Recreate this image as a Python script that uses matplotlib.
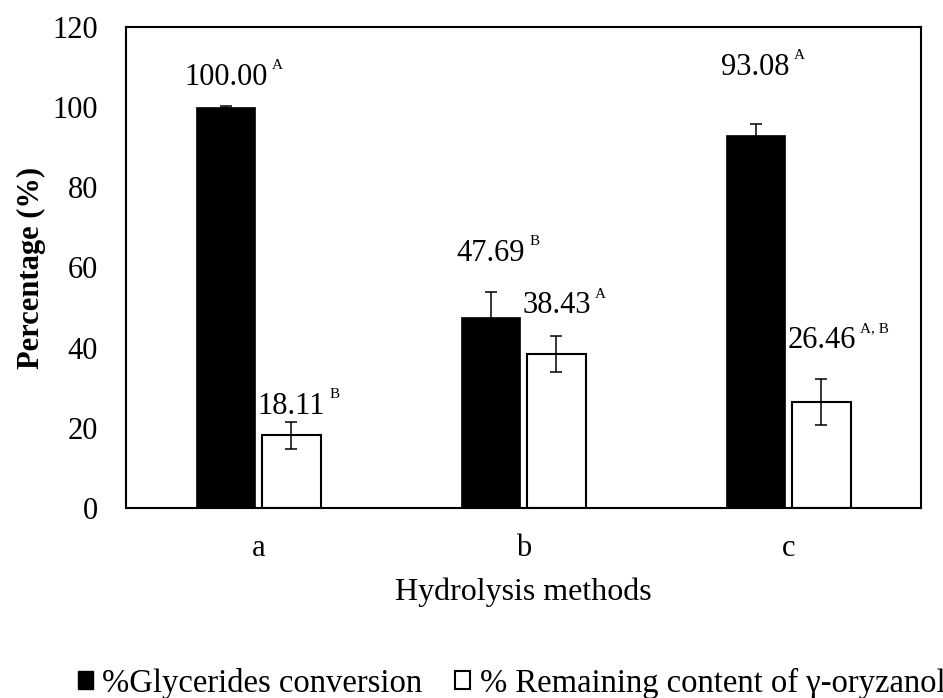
import matplotlib.pyplot as plt
from matplotlib.patches import Patch
import numpy as np

plt.rcParams['font.family'] = ['Liberation Serif', 'DejaVu Serif']

# Data
methods = ['a', 'b', 'c']
glyc = [100.00, 47.69, 93.08]          # % glycerides conversion
glyc_err = [0.3, 6.2, 2.7]
oryz = [18.11, 38.43, 26.46]           # % remaining gamma-oryzanol
oryz_err = [3.3, 4.5, 5.8]
glyc_sup = ['A', 'B', 'A']
oryz_sup = ['B', 'A', 'A, B']
glyc_label_y = [107.5, 63.6, 110.0]
oryz_label_y = [25.4, 50.4, 41.7]

fig = plt.figure(figsize=(9.43, 6.98), dpi=100)
ax = fig.add_axes([126 / 943, 1 - 508 / 698, 795 / 943, 481 / 698])

x = np.arange(len(methods))
w = 0.22
off = 0.124

ax.bar(x - off, glyc, w, color='black', edgecolor='black', linewidth=0.5)
ax.bar(x + off, oryz, w, color='white', edgecolor='black', linewidth=1.5)
ax.errorbar(x - off, glyc, yerr=glyc_err, fmt='none', ecolor='black',
            elinewidth=1.1, capsize=4.3, capthick=1.1)
ax.errorbar(x + off, oryz, yerr=oryz_err, fmt='none', ecolor='black',
            elinewidth=1.1, capsize=4.3, capthick=1.1)

# value labels with superscript letters
for xs, vals, ys, sups in [(x - off, glyc, glyc_label_y, glyc_sup),
                           (x + off, oryz, oryz_label_y, oryz_sup)]:
    for xi, v, yi, s in zip(xs, vals, ys, sups):
        t = ax.text(xi, yi, '{:.2f}'.format(v), ha='center', va='center', fontsize=22)
        ax.annotate(s, xy=(1, 1), xycoords=t, xytext=(3, -2),
                    textcoords='offset points', ha='left', va='center', fontsize=11)

ax.set_xlim(-0.5, 2.5)
ax.set_ylim(0, 120)
ax.set_yticks(range(0, 121, 20))
ax.set_xticks(x)
ax.set_xticklabels(methods)
ax.tick_params(axis='both', length=0, labelsize=22)
ax.tick_params(axis='y', pad=20)
ax.tick_params(axis='x', pad=19)
for sp in ax.spines.values():
    sp.set_linewidth(1.5)
    sp.set_color('black')

ax.set_ylabel('Percentage (%)', fontsize=22, fontweight='bold')
ax.yaxis.set_label_coords(-0.10, 0.5)
ax.set_xlabel('Hydrolysis methods', fontsize=23)
ax.xaxis.set_label_coords(0.5, -0.145)

handles = [Patch(facecolor='black', edgecolor='black'),
           Patch(facecolor='white', edgecolor='black', linewidth=1.5)]
fig.legend(handles, ['%Glycerides conversion', '% Remaining content of \u03b3-oryzanol'],
           loc='center left', bbox_to_anchor=(78 / 943, 1 - 683 / 698), ncol=2,
           frameon=False, fontsize=23.5, handlelength=0.45, handleheight=0.45,
           handletextpad=0.3, columnspacing=1.0, borderpad=0, borderaxespad=0)

fig.savefig('out.png', dpi=100)
